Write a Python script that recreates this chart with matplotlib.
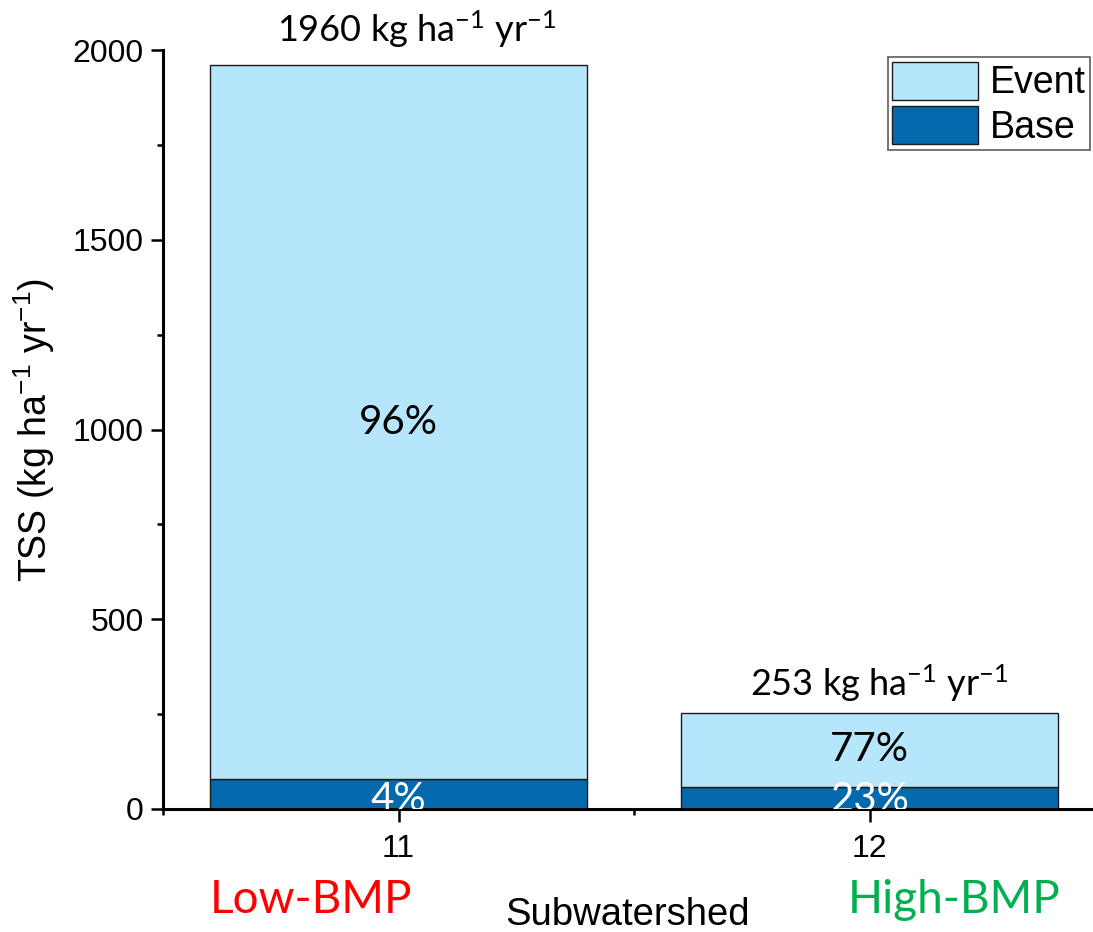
import numpy as np
import matplotlib.pyplot as plt
from matplotlib.ticker import MultipleLocator
from matplotlib.transforms import blended_transform_factory

# data
subwatersheds = ['11', '12']
groups = ['Low-BMP', 'High-BMP']
group_colors = ['#ff0000', '#00b050']
totals = [1960, 253]
base_pct = [4, 23]
event_pct = [96, 77]
base = [78, 58]
event = [t - b for t, b in zip(totals, base)]

event_col = '#b5e6fb'
base_col = '#056aad'
calibri = ['Lato', 'DejaVu Sans']
arial = ['Liberation Sans', 'DejaVu Sans']

fig = plt.figure(figsize=(10.93, 9.32), dpi=100)
ax = fig.add_axes([163 / 1093, 123 / 932, 930 / 1093, 759 / 932])

x = np.arange(1, len(totals) + 1)
b1 = ax.bar(x, base, width=0.8, color=base_col, edgecolor='#1a1a1a', linewidth=1, zorder=2)
b2 = ax.bar(x, event, bottom=base, width=0.8, color=event_col, edgecolor='#1a1a1a', linewidth=1, zorder=2)

ax.set_xlim(0.5, 0.5 + 930 / 471)
ax.set_ylim(0, 2000)

for s in ['top', 'right']:
    ax.spines[s].set_visible(False)
for s in ['left', 'bottom']:
    ax.spines[s].set_linewidth(2.2)

ax.set_xticks(x)
ax.set_xticklabels(subwatersheds, family=arial, fontsize=23)
ax.xaxis.set_minor_locator(MultipleLocator(1.0, offset=0.5))
ax.yaxis.set_major_locator(MultipleLocator(500))
ax.yaxis.set_minor_locator(MultipleLocator(250))
ax.tick_params(axis='both', which='major', direction='out', length=9, width=1.8, labelsize=23)
ax.tick_params(axis='both', which='minor', direction='out', length=4.5, width=1.8)
ax.tick_params(axis='x', which='major', pad=9)
ax.tick_params(axis='y', which='major', pad=5)
for lab in ax.get_yticklabels() + ax.get_xticklabels():
    lab.set_family(arial)

ax.set_ylabel(r'TSS (kg ha$\mathregular{^{-1}}$ yr$\mathregular{^{-1}}$)',
              family=arial, fontsize=27)
ax.yaxis.set_label_coords(-0.114, 0.5)
ax.set_xlabel('Subwatershed', family=arial, fontsize=27.5, va='center')
ax.xaxis.set_label_coords(0.5, (809 - 915) / 759)

# percentages inside bars
for xi, b, e, bp, ep in zip(x, base, event, base_pct, event_pct):
    ax.text(xi, b + e / 2, f'{ep}%', ha='center', va='center',
            family=calibri, fontsize=29, color='black', zorder=3)
    ax.text(xi, -4, f'{bp}%', ha='center', va='baseline',
            family=calibri, fontsize=29, color='white', zorder=3, clip_on=True)

# totals above bars
for xi, t, dx, dy in zip(x, totals, [13, 7], [11, 6.5]):
    ax.annotate(f'{t} kg ha$\\mathregular{{^{{-1}}}}$ yr$\\mathregular{{^{{-1}}}}$',
                (xi, t), xytext=(dx, dy), textcoords='offset points',
                ha='center', va='bottom', family=calibri, fontsize=26,
                annotation_clip=False)

# group names under the axis
tr = blended_transform_factory(ax.transData, fig.transFigure)
for gx, g, c in zip([0.814, 2.18], groups, group_colors):
    ax.text(gx, 1 - 900 / 932, g, transform=tr, ha='center', va='center',
            family=calibri, fontsize=33, color=c)

leg = ax.legend([b2, b1], ['Event', 'Base'], loc='upper right',
                bbox_to_anchor=(1090 / 1093, 1 - 57 / 932), bbox_transform=fig.transFigure,
                borderaxespad=0, fancybox=False, edgecolor='#333333',
                prop={'family': arial, 'size': 27}, handlelength=2.3, handleheight=1.2,
                labelspacing=0.12, handletextpad=0.3, borderpad=0.12)
leg.get_frame().set_linewidth(1.2)

plt.savefig('out.png', dpi=100)
